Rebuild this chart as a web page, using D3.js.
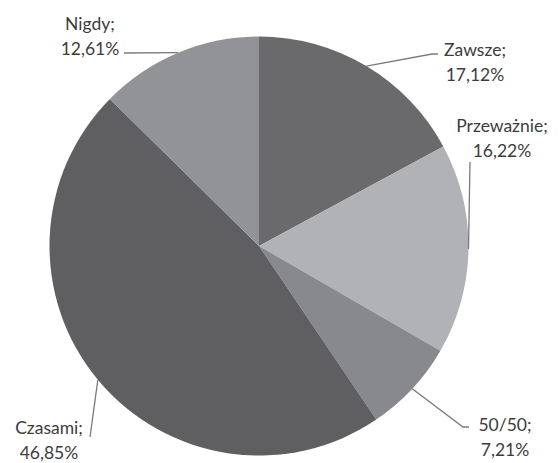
<!DOCTYPE html>
<html><head><meta charset="utf-8">
<script src="https://cdn.jsdelivr.net/npm/d3@7/dist/d3.min.js"></script>
<style>
html,body{margin:0;padding:0;background:#fff;}
svg{display:block;}
text{font-family:Lato,"Open Sans",sans-serif;font-size:17.5px;fill:#3c3c3c;}
</style></head>
<body>
<svg id="chart" width="560" height="463"></svg>
<script>
// Data
const categories = ["Zawsze", "Przeważnie", "50/50", "Czasami", "Nigdy"];
const values = [17.12, 16.22, 7.21, 46.85, 12.61];
const valueLabels = ["17,12%", "16,22%", "7,21%", "46,85%", "12,61%"];
const colors = ["#6a6a6c", "#b1b2b5", "#88898c", "#5f5f61", "#929396"];

// Layout (label placement, not data)
const labelLayout = [
  {x: 475, y: 56, elbow: [[432, 54], [438, 54]]},
  {x: 502, y: 132, elbow: [[470, 162]]},
  {x: 505, y: 431, elbow: [[463, 427], [469, 427]]},
  {x: 49, y: 434, elbow: [[90, 437]]},
  {x: 90, y: 30, elbow: [[124, 53]]}
];

const svg = d3.select("#chart");
const cx = 259, cy = 246, r = 209.5;
const g = svg.append("g").attr("transform", `translate(${cx},${cy})`);

const data = categories.map((c, i) => ({name: c, value: values[i], label: valueLabels[i], color: colors[i], i}));
const pie = d3.pie().value(d => d.value).sort(null);
const arcs = pie(data);
const arc = d3.arc().innerRadius(0).outerRadius(r);

g.selectAll("path.slice").data(arcs).enter().append("path")
  .attr("class", "slice")
  .attr("d", arc)
  .attr("fill", d => d.data.color);

// Leader lines
arcs.forEach(a => {
  const mid = (a.startAngle + a.endAngle) / 2;
  const ax = cx + r * Math.sin(mid), ay = cy - r * Math.cos(mid);
  const lay = labelLayout[a.data.i];
  const pts = [[ax, ay]].concat(lay.elbow);
  svg.append("path")
    .attr("d", d3.line()(pts))
    .attr("fill", "none")
    .attr("stroke", "#7a7a7a")
    .attr("stroke-width", 1.3);
});

// Labels
arcs.forEach(a => {
  const lay = labelLayout[a.data.i];
  const t = svg.append("text").attr("text-anchor", "middle");
  t.append("tspan").attr("x", lay.x).attr("y", lay.y).text(a.data.name + ";");
  t.append("tspan").attr("x", lay.x).attr("y", lay.y + 25).text(a.data.label);
});
</script>
</body></html>
